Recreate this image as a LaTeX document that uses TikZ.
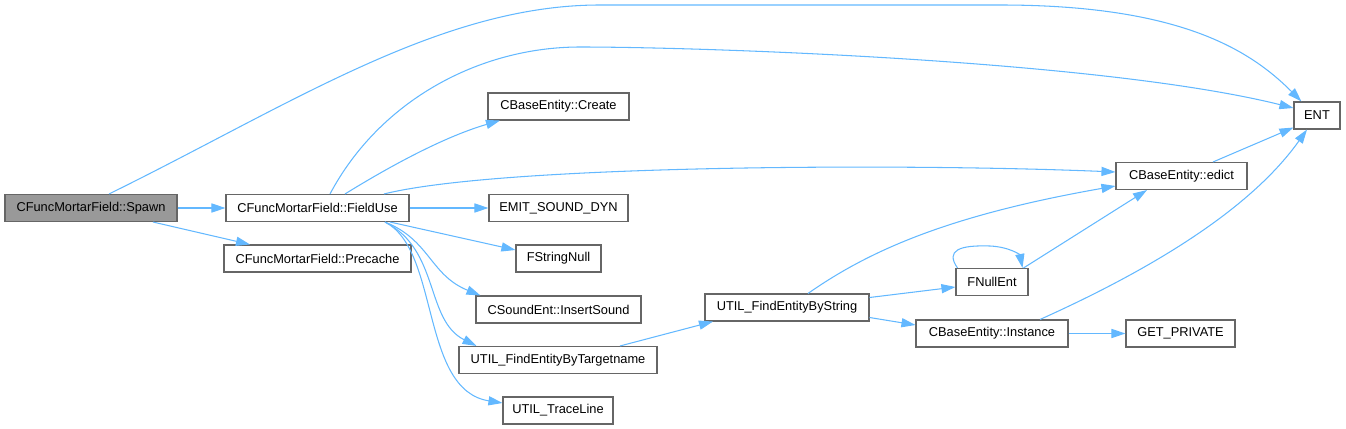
\documentclass[tikz,border=0pt]{standalone}
\usepackage{fontspec}
\setmainfont{Liberation Sans}
\usepackage{xcolor}
\usetikzlibrary{arrows.meta}
\definecolor{edgeblue}{HTML}{63B8FF}
\definecolor{boxgray}{HTML}{666666}
\definecolor{focusgray}{HTML}{999999}

\begin{document}
\begin{tikzpicture}[x=0.02cm, y=-0.02cm,
  fn/.style={rectangle, draw=boxgray, fill=white, line width=0.6pt, minimum height=0.54cm,
             inner sep=0pt, text centered, font=\fontsize{7.3}{9}\selectfont},
  call/.style={draw=edgeblue, line width=0.6pt, -{Triangle[length=8pt,width=5.2pt]}}
]
\useasboundingbox (0,0) rectangle (1346,429);
\node[fn, fill=focusgray, minimum width=3.44cm] (spawn) at (91,208)     {CFuncMortarField::Spawn};
\node[fn, minimum width=3.66cm] (fielduse)     at (317.5,208)   {CFuncMortarField::FieldUse};
\node[fn, minimum width=3.74cm] (precache)     at (317.5,258.5) {CFuncMortarField::Precache};
\node[fn, minimum width=2.82cm] (create)       at (558.5,106.5) {CBaseEntity::Create};
\node[fn, minimum width=2.78cm] (emitsound)    at (558.5,208)   {EMIT\_SOUND\_DYN};
\node[fn, minimum width=1.70cm] (fstringnull)  at (558.5,258.5) {FStringNull};
\node[fn, minimum width=3.30cm] (insertsound)  at (558.5,309.5) {CSoundEnt::InsertSound};
\node[fn, minimum width=3.96cm] (findbytarget) at (558,360)     {UTIL\_FindEntityByTargetname};
\node[fn, minimum width=2.20cm] (traceline)    at (558,410.5)   {UTIL\_TraceLine};
\node[fn, minimum width=3.28cm] (findbystring) at (787,307.5)   {UTIL\_FindEntityByString};
\node[fn, minimum width=1.44cm] (fnullent)     at (992,282)     {FNullEnt};
\node[fn, minimum width=3.04cm] (instance)     at (992,333.5)   {CBaseEntity::Instance};
\node[fn, minimum width=2.62cm] (edict)        at (1181.5,176)  {CBaseEntity::edict};
\node[fn, minimum width=2.18cm] (getprivate)   at (1180.5,333.5) {GET\_PRIVATE};
\node[fn, minimum width=0.92cm] (ent)          at (1317,115.5)  {ENT};

\draw[call] ([xshift=0.36cm]spawn.north) .. controls (290,105) and (440,5) .. (600,5) -- (1000,5)
  .. controls (1180,5) and (1250,50) .. ([xshift=0.16cm]ent.north west);
\draw[call] (spawn.east) -- (fielduse.west);
\draw[call] ([xshift=1.24cm]spawn.south) -- ([xshift=-1.35cm]precache.north);
\draw[call] ([xshift=0.25cm]fielduse.north) .. controls (380,100) and (480,47) .. (580,47)
  .. controls (700,47) and (1100,60) .. ([yshift=0.15cm]ent.west);
\draw[call] ([xshift=0.55cm]fielduse.north) .. controls (400,160) and (450,135) .. ([xshift=-1.17cm]create.south);
\draw[call] ([xshift=1.33cm]fielduse.north) .. controls (500,165) and (900,163) .. ([yshift=0.08cm]edict.west);
\draw[call] (fielduse.east) -- (emitsound.west);
\draw[call] ([xshift=1.45cm]fielduse.south) -- ([yshift=0.17cm]fstringnull.west);
\draw[call] ([xshift=1.35cm]fielduse.south) .. controls (430,240) and (430,275) .. ([xshift=0.1cm]insertsound.north west);
\draw[call] ([xshift=1.35cm]fielduse.south) .. controls (440,250) and (425,320) .. ([xshift=0.36cm]findbytarget.north west);
\draw[call] ([xshift=1.35cm]fielduse.south) .. controls (440,250) and (420,390) .. ([yshift=0.15cm]traceline.west);
\draw[call] ([xshift=1.24cm]findbytarget.north) -- ([xshift=-1.48cm]findbystring.south);
\draw[call] ([xshift=0.42cm]findbystring.north) .. controls (870,250) and (950,215) .. ([yshift=-0.2cm]edict.west);
\draw[call] ([yshift=0.2cm]findbystring.east) -- ([yshift=-0.1cm]fnullent.west);
\draw[call] ([yshift=-0.2cm]findbystring.east) -- ([yshift=0.17cm]instance.west);
\draw[call] ([xshift=0.04cm]fnullent.north west) .. controls (945,250) and (960,245) .. (990,246)
  .. controls (1010,247) and (1020,255) .. ([xshift=-0.12cm]fnullent.north east);
\draw[call] ([xshift=-0.1cm]fnullent.north east) -- ([xshift=-0.69cm]edict.south);
\draw[call] (instance.east) -- (getprivate.west);
\draw[call] ([xshift=0.96cm]instance.north) .. controls (1150,270) and (1250,210) .. ([xshift=-0.2cm]ent.south);
\draw[call] ([xshift=0.63cm]edict.north) -- ([yshift=0.04cm]ent.south west);
\end{tikzpicture}
\end{document}
